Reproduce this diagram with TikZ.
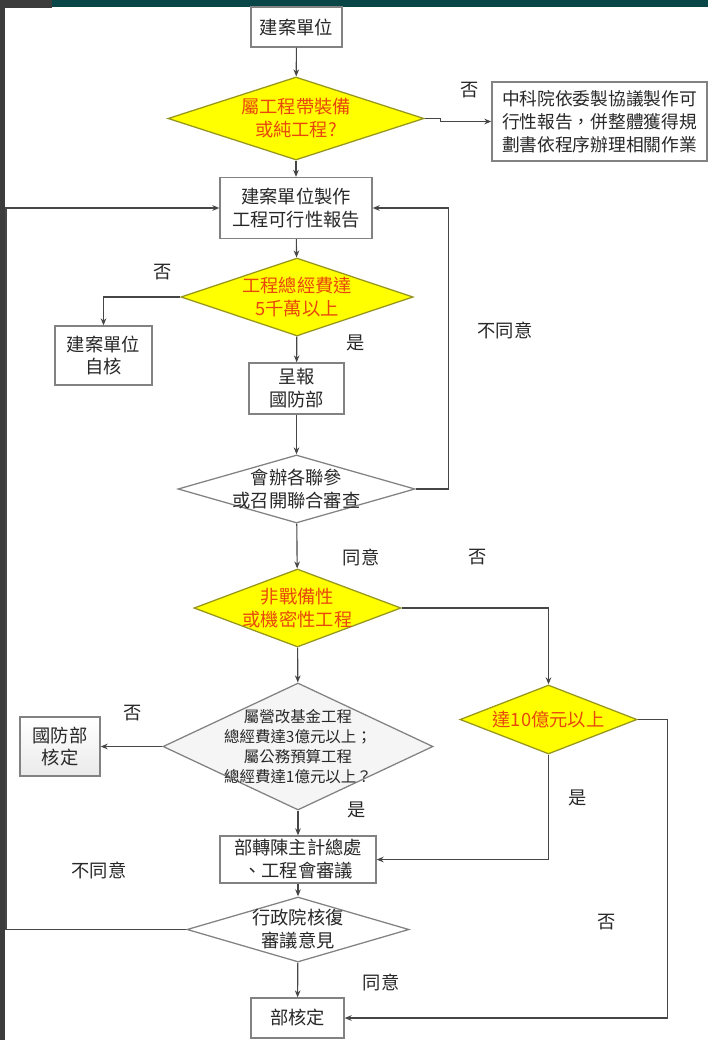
\documentclass[tikz,border=0pt]{standalone}
\usepackage{fontspec}
\setmainfont{Noto Sans CJK TC}
\usetikzlibrary{shapes.geometric,arrows.meta}
\definecolor{framegray}{RGB}{60,60,60}
\definecolor{barteal}{RGB}{8,70,72}
\definecolor{condfill}{RGB}{255,255,0}
\definecolor{conddraw}{RGB}{150,150,30}
\definecolor{condtext}{RGB}{232,72,12}
\definecolor{linegray}{RGB}{70,70,70}
\definecolor{boxgray}{RGB}{130,130,130}
\definecolor{inkgray}{RGB}{40,40,40}
\begin{document}
\begin{tikzpicture}[x=0.025cm, y=-0.025cm,
    box/.style={rectangle, draw=boxgray, line width=0.9pt, fill=white, text=inkgray, align=center, inner sep=1pt, font=\fontsize{13}{16.3}\selectfont},
    cond/.style={diamond, draw=conddraw, line width=0.9pt, fill=condfill, inner sep=0pt},
    askcond/.style={diamond, draw=boxgray, line width=0.9pt, fill=white, inner sep=0pt},
    condtxt/.style={text=condtext, align=center, font=\fontsize{13}{16.3}\selectfont},
    asktxt/.style={text=inkgray, align=center, font=\fontsize{13}{16.3}\selectfont},
    lbl/.style={text=inkgray, font=\fontsize{13}{16}\selectfont},
    flow/.style={draw=linegray, line width=0.8pt, -{Stealth[length=5pt,width=4pt]}},
    link/.style={draw=linegray, line width=0.8pt}]
  \useasboundingbox (0,0) rectangle (708,1040);
  \fill[barteal] (0,0) rectangle (708,7);
  \fill[framegray] (0,0) rectangle (52,8);
  \fill[framegray] (0,0) rectangle (5,1040);

  \node[box, minimum width=2.275cm, minimum height=1cm] (start) at (296.5,27) {建案單位};
  \node[cond, minimum width=6.4cm, minimum height=2.075cm] (q1) at (296,118.5) {};
  \node[condtxt] at (q1) {屬工程帶裝備\\或純工程?};
  \node[box, align=left, inner sep=0.5pt, minimum width=5.375cm, minimum height=1.975cm, font=\fontsize{12.6}{16.5}\selectfont] (ncsist) at (599.5,121.5) {中科院依委製協議製作可\\行性報告，併整體獲得規\\劃書依程序辦理相關作業};
  \node[box, minimum width=3.8cm, minimum height=1.525cm] (report) at (296,208) {建案單位製作\\工程可行性報告};
  \node[cond, minimum width=5.8cm, minimum height=1.95cm] (q2) at (297,297) {};
  \node[condtxt] at (q2) {工程總經費達\\5千萬以上};
  \node[box, minimum width=2.425cm, minimum height=1.475cm] (self) at (103.5,355.5) {建案單位\\自核};
  \node[box, minimum width=2.375cm, minimum height=1.275cm] (mnd) at (296.5,388.5) {呈報\\國防部};
  \node[askcond, minimum width=5.925cm, minimum height=1.7cm] (joint) at (296.5,489) {};
  \node[asktxt] at (joint) {會辦各聯參\\或召開聯合審查};
  \node[cond, minimum width=5.175cm, minimum height=1.95cm] (q3) at (297.5,608) {};
  \node[condtxt] at (q3) {非戰備性\\或機密性工程};
  \node[askcond, fill=black!4, minimum width=6.75cm, minimum height=3.175cm] (q4) at (298,746.5) {};
  \node[asktxt, font=\fontsize{11}{14.4}\selectfont] at (q4) {屬營改基金工程\\總經費達3億元以上；\\屬公務預算工程\\總經費達1億元以上？};
  \node[cond, minimum width=4.425cm, minimum height=1.725cm] (q5) at (548.5,719.5) {};
  \node[condtxt] at (q5) {達10億元以上};
  \node[box, top color=white, bottom color=black!8, minimum width=2cm, minimum height=1.475cm] (mndok) at (60,746.5) {國防部\\核定};
  \node[box, minimum width=3.9cm, minimum height=1.175cm] (review) at (298,859.5) {部轉陳主計總處\\、工程會審議};
  \node[askcond, minimum width=5.55cm, minimum height=1.625cm] (ey) at (298,929.5) {};
  \node[asktxt] at (ey) {行政院核復\\審議意見};
  \node[box, minimum width=2.325cm, minimum height=1cm] (final) at (297.5,1018) {部核定};

  \draw[flow] (start) -- (q1);
  \draw[flow] (q1.east) -- ++(16,0) |- (ncsist.west);
  \draw[flow] (q1) -- (report);
  \draw[flow] (report) -- (q2);
  \draw[flow] (q2.west) -| (self.north);
  \draw[flow] (q2) -- (mnd);
  \draw[flow] (mnd) -- (joint);
  \draw[flow] (joint.east) -- ++(33,0) |- (report.east);
  \draw[flow] (joint) -- (q3);
  \draw[flow] (q3.east) -| (q5.north);
  \draw[flow] (q3) -- (q4);
  \draw[flow] (q4.west) -- (mndok.east);
  \draw[flow] (q4) -- (review);
  \draw[flow] (q5.south) |- (review.east);
  \draw[flow] (q5.east) -- ++(30,0) |- (final.east);
  \draw[flow] (review) -- (ey);
  \draw[flow] (ey) -- (final);
  \draw[flow] (ey.west) -- (6,929.5) |- (report.west);

  \node[lbl] (l1) at (470,90) {否};
  \node[lbl] (l2) at (163,272) {否};
  \node[lbl] (l3) at (356,343) {是};
  \node[lbl] (l4) at (505,330) {不同意};
  \node[lbl] (l5) at (361,557) {同意};
  \node[lbl] (l6) at (478,557) {否};
  \node[lbl] (l7) at (133,713) {否};
  \node[lbl] (l8) at (357,810) {是};
  \node[lbl] (l9) at (578,798) {是};
  \node[lbl] (l10) at (99,870) {不同意};
  \node[lbl] (l11) at (607,922) {否};
  \node[lbl] (l12) at (381,982) {同意};
\end{tikzpicture}
\end{document}
